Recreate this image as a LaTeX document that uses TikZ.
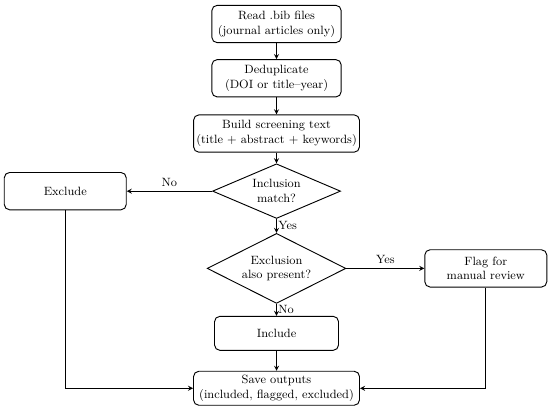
\documentclass[tikz,border=0pt]{standalone}
\usepackage{amsmath}
\usetikzlibrary{shapes.geometric, arrows, positioning}
\tikzstyle{arrow} = [line width=0.7pt,->,>=stealth]
\tikzstyle{process} = [rectangle, rounded corners=4pt, minimum width=97pt, minimum height=28pt, inner sep=2pt, text centered, align=center, draw=black, line width=0.7pt]
\tikzstyle{decision} = [diamond, aspect=2.3, inner sep=0pt, text centered, align=center, draw=black, line width=0.7pt]

\begin{document}
\begin{tikzpicture}[node distance=12pt, font=\small]
    % Main column
    \node (read) [process] at (0,0) {Read .bib files\\(journal articles only)};
    \node (dedup) [process, below=12pt of read] {Deduplicate\\(DOI or title--year)};
    \node (build) [process, below=12.75pt of dedup, minimum width=121.5pt] {Build screening text\\(title + abstract + keywords)};
    \node (incl) [decision, below=8pt of build, minimum width=96pt, minimum height=41pt] {Inclusion\\match?};
    \node (excl) [decision, below=10.5pt of incl, aspect=2, minimum width=104pt, minimum height=52.5pt] {Exclusion\\also present?};
    \node (include) [process, below=9pt of excl, minimum width=93pt, minimum height=25.5pt] {Include};
    \node (save) [process, below=15pt of include, minimum width=124.5pt, minimum height=25.5pt] {Save outputs\\(included, flagged, excluded)};

    % Side branches
    \node (exclude) [process, left=64pt of incl, minimum width=91.5pt] {Exclude};
    \node (flag) [process, right=58.5pt of excl, minimum width=91.5pt] {Flag for\\manual review};

    % Connectors
    \draw [arrow] (read) -- (dedup);
    \draw [arrow] (dedup) -- (build);
    \draw [arrow] (build) -- (incl);
    \draw [arrow] (incl) -- node[above] {No} (exclude);
    \draw [arrow] (incl) -- node[right, inner sep=1pt] {Yes} (excl);
    \draw [arrow] (excl) -- node[above] {Yes} (flag);
    \draw [arrow] (excl) -- node[right, inner sep=1pt] {No} (include);
    \draw [arrow] (include) -- (save);
    \draw [arrow] (exclude) |- (save);
    \draw [arrow] (flag) |- (save);

    \useasboundingbox (-207.4pt,18pt) rectangle (205.1pt,-287.25pt);
\end{tikzpicture}
\end{document}
